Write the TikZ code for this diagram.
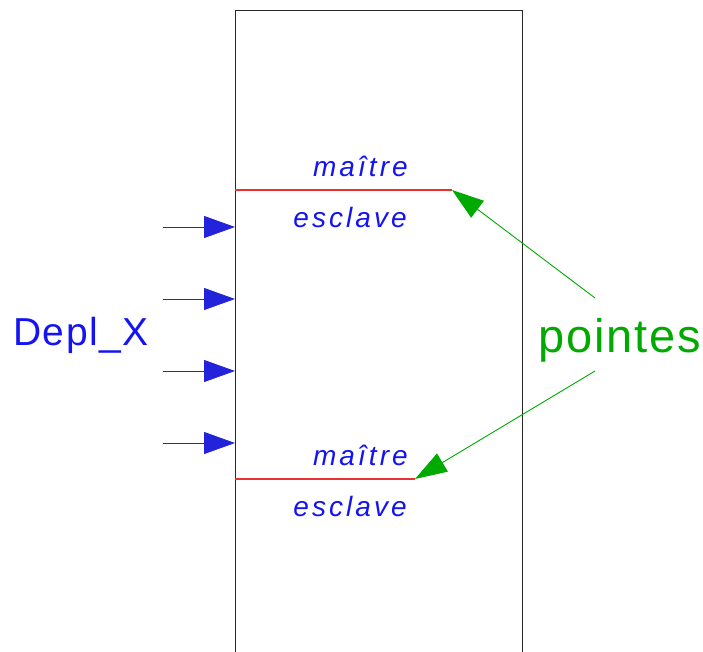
\documentclass[tikz,border=0pt]{standalone}
\usepackage{fontspec}
\setmainfont{Liberation Sans}
\newfontfamily\lblfont[LetterSpace=11]{Liberation Sans}
\newfontfamily\bigfont[LetterSpace=4]{Liberation Sans}
\usetikzlibrary{arrows.meta}
\definecolor{txtblue}{RGB}{20,20,240}
\definecolor{arrblue}{RGB}{35,35,220}
\definecolor{pgreen}{RGB}{0,170,0}
\definecolor{lred}{RGB}{235,50,50}
\definecolor{boxgray}{RGB}{40,40,40}
\tikzset{
  boxline/.style={draw=boxgray, line width=1pt},
  redline/.style={draw=lred, line width=1.1pt},
  lbl/.style={inner sep=0pt, text=txtblue, font=\lblfont\itshape\fontsize{28}{28}\selectfont},
  inarrow/.style={draw=arrblue, line width=0.9pt, -{Triangle[length=31pt,width=22pt]}},
  garrow/.style={draw=pgreen, line width=0.9pt, -{Triangle[length=32pt,width=21pt]}},
}
\begin{document}
\begin{tikzpicture}[x=1pt,y=-1pt]
\useasboundingbox (0,0) rectangle (703,652);
% box (open at bottom)
\coordinate (bl) at (235,653);
\coordinate (tl) at (235,11);
\coordinate (tr) at (522,11);
\coordinate (br) at (522,653);
\draw[boxline] (bl) -- (tl) -- (tr) -- (br);
% red separators
\coordinate (r1a) at (235,190);
\coordinate (r1b) at (452,190);
\coordinate (r2a) at (235,479);
\coordinate (r2b) at (415,479);
\draw[redline] (r1a) -- (r1b);
\draw[redline] (r2a) -- (r2b);
% labels
\node[lbl, anchor=base east] (m1) at (408,177) {maître};
\node[lbl, anchor=base east] (e1) at (407,228) {esclave};
\node[lbl, anchor=base east] (m2) at (408,465) {maître};
\node[lbl, anchor=base east] (e2) at (407,516) {esclave};
% Depl_X
\node[inner sep=0pt, anchor=base west, text=txtblue, font=\bigfont\fontsize{39}{39}\selectfont] (depl) at (13,345) {Depl\_X};
% input arrows
\foreach \i/\y in {1/227,2/299,3/371,4/443}{
  \coordinate (s\i) at (163,\y);
  \coordinate (t\i) at (235,\y);
  \draw[inarrow] (s\i) -- (t\i);
}
% pointes
\node[inner sep=0pt, anchor=base west, text=pgreen, font=\bigfont\fontsize{47}{47}\selectfont] (pt) at (538,352) {pointes};
\coordinate (g1) at (595,298);
\coordinate (g2) at (595,371);
\draw[garrow] (g1) -- (r1b);
\draw[garrow] (g2) -- (r2b);
\end{tikzpicture}
\end{document}
